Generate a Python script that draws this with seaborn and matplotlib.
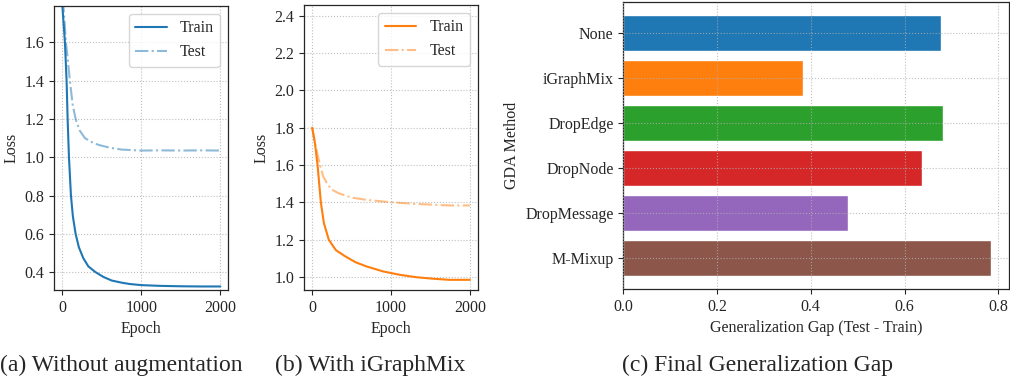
import matplotlib
matplotlib.use("Agg")
import matplotlib.pyplot as plt
import seaborn as sns
import numpy as np
import pandas as pd

# ---------------- data ----------------
# (a) Without augmentation
a_train_epoch = [0, 34, 55, 68, 85, 110, 135, 169, 210, 266, 330, 420, 520, 625, 750, 850, 1000, 1250, 1500, 1750, 2000]
a_train_loss  = [1.80, 1.60, 1.40, 1.20, 1.00, 0.80, 0.69, 0.60, 0.53, 0.473, 0.43, 0.40, 0.375, 0.356, 0.345, 0.338, 0.332, 0.328, 0.326, 0.325, 0.325]
a_test_epoch  = [0, 47, 97, 130, 169, 220, 287, 370, 456, 600, 752, 1000, 1250, 1500, 1750, 2000]
a_test_loss   = [1.88, 1.60, 1.40, 1.28, 1.20, 1.14, 1.10, 1.08, 1.065, 1.05, 1.04, 1.035, 1.036, 1.035, 1.036, 1.035]

# (b) With iGraphMix
b_train_epoch = [0, 34, 68, 110, 148, 211, 300, 414, 550, 687, 898, 1109, 1320, 1530, 1741, 2000]
b_train_loss  = [1.80, 1.72, 1.60, 1.40, 1.29, 1.20, 1.145, 1.113, 1.08, 1.058, 1.031, 1.013, 1.000, 0.992, 0.986, 0.986]
b_test_epoch  = [0, 34, 97, 139, 190, 245, 330, 498, 687, 898, 1100, 1320, 1530, 1741, 2000]
b_test_loss   = [1.80, 1.72, 1.604, 1.54, 1.50, 1.47, 1.45, 1.426, 1.414, 1.405, 1.398, 1.392, 1.388, 1.384, 1.384]

# (c) Final Generalization Gap
methods = ["None", "iGraphMix", "DropEdge", "DropNode", "DropMessage", "M-Mixup"]
gaps = [0.677, 0.383, 0.683, 0.637, 0.479, 0.784]

captions = ["(a) Without augmentation", "(b) With iGraphMix", "(c) Final Generalization Gap"]

# ---------------- style ----------------
sns.set_style("ticks")
plt.rcParams["font.family"] = ["Liberation Serif", "DejaVu Serif"]
plt.rcParams["mathtext.fontset"] = "stix"
FS = 11.5

pal = sns.color_palette("tab10")

fig = plt.figure(figsize=(10.1, 3.77), dpi=100)
axa = fig.add_axes([0.0538, 0.231, 0.1722, 0.753])
axb = fig.add_axes([0.3013, 0.231, 0.1717, 0.756])
axc = fig.add_axes([0.6171, 0.2334, 0.3822, 0.7613])

def curve_panel(ax, tr_x, tr_y, te_x, te_y, color, ylim, yticks):
    sns.lineplot(x=tr_x, y=tr_y, ax=ax, color=color, lw=1.5, label="Train")
    sns.lineplot(x=te_x, y=te_y, ax=ax, color=color, lw=1.5, alpha=0.5,
                 linestyle="-.", label="Test")
    ax.set_xlim(-100, 2100)
    ax.set_ylim(*ylim)
    ax.set_xticks([0, 1000, 2000])
    ax.set_yticks(yticks)
    ax.set_yticklabels([f"{v:.1f}" for v in yticks])
    ax.set_xlabel("Epoch", fontsize=FS)
    ax.set_ylabel("Loss", fontsize=FS)
    ax.tick_params(labelsize=FS, length=3.5, width=0.8)
    ax.grid(True, linestyle=":", color="#b0b0b0", lw=0.8, alpha=0.8)
    for s in ax.spines.values():
        s.set_linewidth(0.9)
    ax.legend(loc="upper right", fontsize=FS, frameon=True, framealpha=0.8,
              edgecolor="#cccccc", fancybox=True)

curve_panel(axa, a_train_epoch, a_train_loss, a_test_epoch, a_test_loss, pal[0],
            (0.307, 1.79), [0.4, 0.6, 0.8, 1.0, 1.2, 1.4, 1.6])
curve_panel(axb, b_train_epoch, b_train_loss, b_test_epoch, b_test_loss, pal[1],
            (0.932, 2.457), [1.0, 1.2, 1.4, 1.6, 1.8, 2.0, 2.2, 2.4])

dfc = pd.DataFrame({"method": methods, "gap": gaps})
sns.barplot(data=dfc, x="gap", y="method", hue="method", palette=pal[:6],
            orient="h", ax=axc, width=0.8, legend=False, saturation=1)
axc.set_ylim(5.69, -0.69)
axc.set_xlim(0, 0.8234)
axc.set_xticks([0.0, 0.2, 0.4, 0.6, 0.8])
axc.set_xticklabels(["0.0", "0.2", "0.4", "0.6", "0.8"])
axc.set_xlabel("Generalization Gap (Test - Train)", fontsize=FS)
axc.set_ylabel("GDA Method", fontsize=FS)
axc.tick_params(labelsize=FS, length=3.5, width=0.8)
axc.set_axisbelow(False)
axc.grid(True, linestyle=":", color="#b0b0b0", lw=0.8, alpha=0.8)
for s in axc.spines.values():
    s.set_linewidth(0.9)

for x, t in zip([121 / 1010, 370 / 1010, 758 / 1010], captions):
    fig.text(x, 1 - 365 / 377, t, ha="center", va="center", fontsize=17)

fig.savefig("out.png", dpi=100)
